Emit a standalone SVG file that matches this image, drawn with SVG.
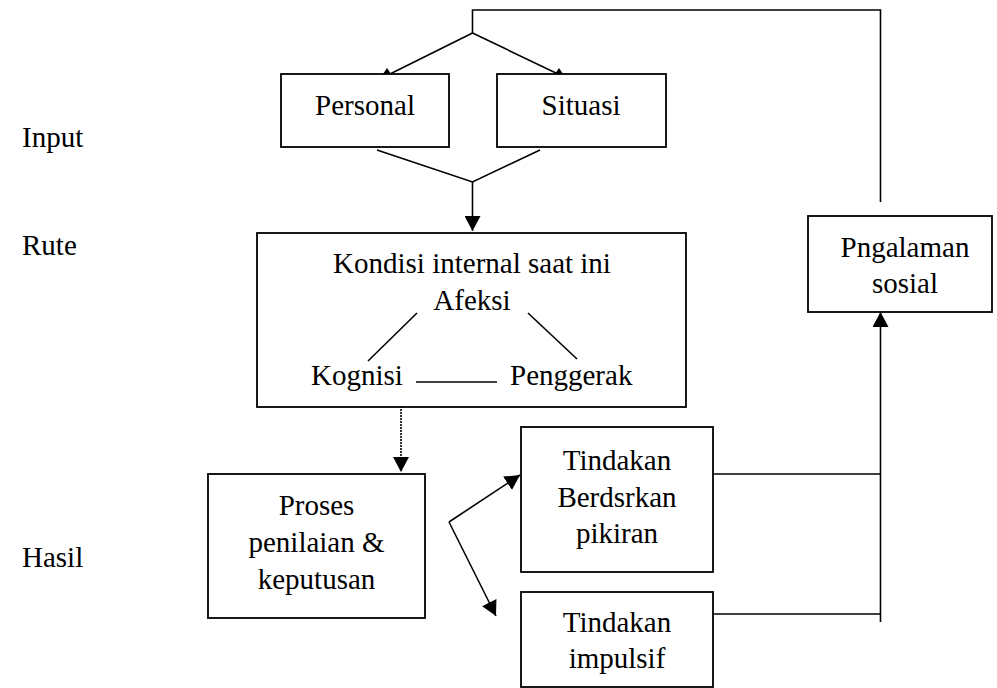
<svg xmlns="http://www.w3.org/2000/svg" width="997" height="688" viewBox="0 0 997 688">
<style>
.box{fill:#fff;stroke:#000;stroke-width:1.8}
.ln{fill:none;stroke:#000;stroke-width:1.6}
.ah{fill:#000;stroke:none}
text{font-family:"Liberation Serif","Times New Roman",serif;font-size:29px;fill:#000}
.c{text-anchor:middle}
</style>
<defs>
<marker id="arr" markerWidth="16" markerHeight="16" refX="15" refY="8" orient="auto" markerUnits="userSpaceOnUse">
<path d="M0,0 L15,8 L0,16 Z" class="ah"/>
</marker>
</defs>
<g id="labels">
<text x="22" y="147">Input</text>
<text x="22" y="255">Rute</text>
<text x="22" y="567">Hasil</text>
</g>
<g id="connectors">
<polyline class="ln" points="880.5,202 880.5,10 472.5,10 472.5,33"/>
<line class="ln" x1="472.5" y1="33" x2="390" y2="74"/>
<line class="ln" x1="472.5" y1="33" x2="558" y2="74"/>
<polygon class="ah" points="383,74 387,68 391,74"/>
<polygon class="ah" points="555,74 559,68 563,74"/>
<polyline class="ln" points="377,150 472.5,182 540,150"/>
<line class="ln" x1="472.5" y1="182" x2="472.5" y2="231" marker-end="url(#arr)"/>
<line class="ln" x1="401" y1="403" x2="401" y2="472" stroke-dasharray="2,1" marker-end="url(#arr)"/>
<line class="ln" x1="449" y1="522" x2="520" y2="475" marker-end="url(#arr)"/>
<line class="ln" x1="449" y1="522" x2="496" y2="616" marker-end="url(#arr)"/>
<line class="ln" x1="713" y1="474" x2="880.5" y2="474"/>
<line class="ln" x1="713" y1="614" x2="880.5" y2="614"/>
<line class="ln" x1="880.5" y1="622" x2="880.5" y2="312" marker-end="url(#arr)"/>
</g>
<g id="personal">
<rect class="box" x="281" y="74" width="168" height="73"/>
<text class="c" x="365" y="115">Personal</text>
</g>
<g id="situasi">
<rect class="box" x="497" y="74" width="169" height="73"/>
<text class="c" x="581" y="115">Situasi</text>
</g>
<g id="kondisi">
<rect class="box" x="257" y="233" width="429" height="174"/>
<text class="c" x="472" y="273">Kondisi internal saat ini</text>
<text class="c" x="472" y="310">Afeksi</text>
<text x="311" y="385">Kognisi</text>
<text x="510" y="385">Penggerak</text>
<line class="ln" x1="417" y1="313" x2="368" y2="361"/>
<line class="ln" x1="528" y1="313" x2="577" y2="359"/>
<line class="ln" x1="416" y1="382" x2="497" y2="382"/>
</g>
<g id="proses">
<rect class="box" x="208" y="474" width="217" height="144"/>
<text class="c" x="316.5" y="515">Proses</text>
<text class="c" x="316.5" y="552">penilaian &amp;</text>
<text class="c" x="316.5" y="589">keputusan</text>
</g>
<g id="tindakan-pikiran">
<rect class="box" x="521" y="427" width="192" height="145"/>
<text class="c" x="617" y="470">Tindakan</text>
<text class="c" x="617" y="507">Berdsrkan</text>
<text class="c" x="617" y="543">pikiran</text>
</g>
<g id="tindakan-impulsif">
<rect class="box" x="521" y="592" width="192" height="95"/>
<text class="c" x="617" y="632">Tindakan</text>
<text class="c" x="617" y="668">impulsif</text>
</g>
<g id="pengalaman">
<rect class="box" x="808" y="216" width="184" height="96"/>
<text class="c" x="905" y="257">Pngalaman</text>
<text class="c" x="905" y="293">sosial</text>
</g>
</svg>
